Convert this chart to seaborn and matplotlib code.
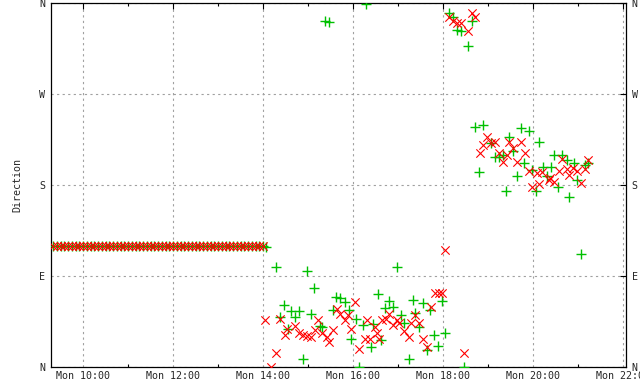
import pandas as pd
import matplotlib
matplotlib.use("Agg")
import matplotlib.pyplot as plt
import matplotlib.dates as mdates
import matplotlib.ticker as mticker
import seaborn as sns

# === Data (day is a Monday) ===
day = "2024-01-01 "

# steady period in the morning: both series sit at 120 deg every 5 min
steady_times = pd.date_range(day + "09:20", day + "14:00", freq="5min")
steady_dir = [120] * len(steady_times)

# green "+" series (time, direction in degrees)
green_times = ["14:04", "14:17", "14:59", "15:08", "15:37", "15:43", "15:49", "14:28", "14:37", "14:48",
               "15:04", "14:43", "15:33", "15:55", "14:23", "15:16", "15:19", "14:33", "16:04", "16:13",
               "15:57", "14:53", "16:08", "16:33", "16:59", "16:48", "16:43", "16:53", "16:27", "16:37",
               "16:24", "17:04", "17:08", "17:20", "17:33", "17:23", "17:28", "17:43", "17:59", "18:03",
               "17:48", "17:53", "17:39", "17:15", "18:28", "15:23", "15:28", "16:17",
               "18:08", "18:13", "18:19", "18:24", "18:39", "18:33",
               "18:43", "18:53", "19:44", "19:55", "19:28", "19:04", "20:08", "19:33", "19:09", "19:15",
               "19:20", "20:28", "20:39", "20:45", "19:48", "20:55", "21:09", "21:13", "20:13", "20:24",
               "19:59", "18:48", "19:39", "20:19", "20:33", "20:59", "20:04", "19:24", "20:48", "21:04"]
green_dir = [119, 99, 95, 78, 69, 68, 64, 61, 55, 55,
             52, 49, 56, 56, 49, 41, 40, 38, 47, 42,
             28, 8, 0, 72, 99, 65, 58, 59, 43, 27,
             20, 51, 44, 66, 63, 53, 40, 56, 65, 34,
             32, 21, 17, 8, 0, 342, 341, 359,
             350, 346, 333, 332, 342, 317,
             237, 239, 236, 233, 227, 222, 223, 214, 208, 208,
             210, 210, 210, 205, 202, 202, 200, 202, 198, 198,
             195, 193, 189, 189, 178, 185, 174, 174, 168, 112]

# red "x" series (time, direction in degrees)
red_times = ["14:03", "14:17", "14:11", "14:23", "14:43", "14:32", "14:29", "14:48", "14:53", "14:59",
             "15:04", "15:13", "15:09", "15:19", "15:25", "15:28", "15:33", "15:39", "15:43", "15:49",
             "15:53", "16:03", "15:57", "16:08", "16:19", "16:16", "16:23", "16:29", "16:32", "16:35",
             "16:39", "16:44", "16:48", "16:53", "16:59", "17:08", "17:15", "17:01", "17:17", "17:23",
             "17:28", "17:33", "17:39", "17:44", "17:49", "17:55", "17:59", "18:03", "18:28",
             "18:08", "18:13", "18:19", "18:24", "18:39", "18:43", "18:33",
             "18:59", "18:53", "19:04", "19:09", "18:49", "19:28", "19:44", "19:33", "19:25", "19:15",
             "19:49", "19:20", "19:39", "20:39", "21:13", "20:35", "20:45", "20:53", "20:59", "21:09",
             "19:55", "20:05", "20:12", "20:48", "20:23", "20:21", "20:28", "20:08", "19:59", "21:04"]
red_dir = [46, 14, 0, 47, 41, 38, 32, 34, 32, 31,
           30, 46, 37, 34, 30, 25, 37, 57, 52, 46,
           51, 64, 38, 18, 46, 28, 28, 40, 34, 28,
           46, 47, 52, 42, 46, 36, 30, 44, 44, 51,
           44, 28, 20, 59, 73, 73, 73, 116, 14,
           346, 342, 340, 340, 350, 346, 332,
           227, 220, 222, 223, 212, 223, 223, 217, 210, 212,
           212, 203, 203, 206, 205, 194, 196, 197, 194, 196,
           194, 192, 193, 190, 187, 185, 183, 181, 178, 182]

dir_ticks = [0, 90, 180, 270, 360]
dir_labels = ["N", "E", "S", "W", "N"]

# === Build frames ===
red_df = pd.DataFrame({
    "time": list(steady_times) + list(pd.to_datetime([day + t for t in red_times])),
    "direction": steady_dir + red_dir,
})
green_df = pd.DataFrame({
    "time": list(steady_times) + list(pd.to_datetime([day + t for t in green_times])),
    "direction": steady_dir + green_dir,
})

# === Plot ===
sns.set_style("white")
plt.rcParams["font.family"] = ["DejaVu Sans Mono", "DejaVu Sans"]
plt.rcParams["font.size"] = 7.2

fig = plt.figure(figsize=(6.4, 3.84), dpi=100)
ax = fig.add_axes([51 / 640, 17 / 384, 575 / 640, 364 / 384])

sns.scatterplot(data=green_df, x="time", y="direction", marker="+", color="#00c000",
                s=44, linewidth=1.0, ax=ax, zorder=3)
sns.scatterplot(data=red_df, x="time", y="direction", marker="x", color="#ff0000",
                s=36, linewidth=0.8, ax=ax, zorder=4)

ax.set_xlim(pd.Timestamp(day + "09:17"), pd.Timestamp(day + "22:04"))
ax.set_ylim(0, 360)

ax.xaxis.set_major_locator(mdates.HourLocator(byhour=range(0, 24, 2)))
ax.xaxis.set_minor_locator(mdates.HourLocator(byhour=range(1, 24, 2)))
ax.xaxis.set_major_formatter(mdates.DateFormatter("%a %H:%M"))
ax.yaxis.set_major_locator(mticker.FixedLocator(dir_ticks))
ax.set_yticklabels(dir_labels)

ax.grid(True, which="major", color="#a0a0a0", linestyle=(0, (2, 3)), linewidth=0.8)
ax.set_axisbelow(True)

for sp in ax.spines.values():
    sp.set_visible(True)
    sp.set_color("black")
    sp.set_linewidth(0.9)

ax.tick_params(axis="both", which="major", direction="in", length=4.5, width=0.8,
               top=True, right=True, labelright=True, color="black", pad=4)
ax.tick_params(axis="both", which="minor", direction="in", length=2.2, width=0.8,
               top=True, bottom=True, color="black")
ax.tick_params(axis="x", which="major", pad=3)

ax.set_xlabel("")
ax.set_ylabel("Direction", labelpad=12)

fig.savefig("out.png", dpi=100)
plt.close(fig)
